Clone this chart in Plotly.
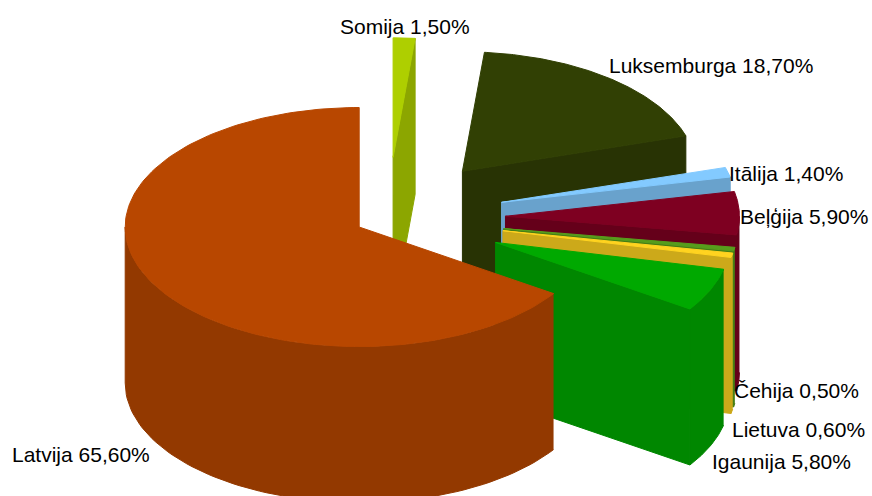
import numpy as np
import plotly.graph_objects as go

# Data, clockwise from 12 o'clock
names = ["Somija", "Luksemburga", "Itālija", "Beļģija", "Čehija", "Lietuva", "Igaunija", "Latvija"]
values = [1.5, 18.7, 1.4, 5.9, 0.5, 0.6, 5.8, 65.6]
explode = [0.525, 0.525, 0.515, 0.515, 0.515, 0.515, 0.515, 0.125]

# Styles
top_colors = ["#aecf00", "#314004", "#83caff", "#7e0021", "#579d1c", "#ffd320", "#00a900", "#b84700"]
side_colors = ["#8ca600", "#283304", "#69a2cc", "#65001a", "#467e16", "#cca91a", "#008700", "#933900"]

# Pie geometry on a 872x496 canvas
CX, CY, RX, RY, DEPTH = 385, 218, 234, 119.5, 156
nudge_x = [2.3, 0, 0, 0, 0, 0, 0, 0]
nudge_y = [2, 2, 0, 0, 0, 0, 0, 2]
label_pos = {
    "Somija": (340, 26), "Luksemburga": (609, 65), "Itālija": (729, 173), "Beļģija": (740, 216),
    "Čehija": (734, 390), "Lietuva": (732, 429), "Igaunija": (712, 461), "Latvija": (12, 454),
}


def pt(ax, ay, deg, r=1.0):
    t = np.radians(deg)
    return ax + r * RX * np.sin(t), ay - r * RY * np.cos(t)


def poly(xs, ys, color, name):
    return go.Scatter(
        x=list(xs), y=list(ys), mode="lines", fill="toself", fillcolor=color,
        line=dict(color=color, width=1), hoverinfo="text", text=name, showlegend=False,
    )


fig = go.Figure()
start = 0.0
for name, val, ex, nx, ny, ctop, cside in zip(names, values, explode, nudge_x, nudge_y, top_colors, side_colors):
    a1 = start
    a2 = start + val * 3.6
    start = a2
    ax, ay = pt(CX + nx, CY + ny, (a1 + a2) / 2, ex)

    # cut face at the clockwise end of the slice
    if a2 <= 180:
        ox, oy = pt(ax, ay, a2)
        fig.add_trace(poly([ax, ox, ox, ax, ax], [ay, oy, oy + DEPTH, ay + DEPTH, ay], cside, name))

    # outer rim, the part facing the viewer
    lo, hi = max(a1, 90.0), min(a2, 270.0)
    if hi > lo:
        th = np.linspace(lo, hi, 80)
        rx, ry = pt(ax, ay, th)
        fig.add_trace(poly(np.r_[rx, rx[::-1]], np.r_[ry, ry[::-1] + DEPTH], cside, name))

    # top face
    th = np.linspace(a1, a2, 160)
    tx, ty = pt(ax, ay, th)
    fig.add_trace(poly(np.r_[ax, tx, ax], np.r_[ay, ty, ay], ctop, name))

for name, val in zip(names, values):
    x, y = label_pos[name]
    fig.add_annotation(
        x=x, y=y, text=f"{name} {val:.2f}%".replace(".", ","), showarrow=False,
        xanchor="left", yanchor="middle", xshift=-1,
        font=dict(family="Liberation Sans, Arial, sans-serif", size=21, color="#000000"),
        borderpad=0,
    )

fig.update_xaxes(range=[0, 872], visible=False, fixedrange=True)
fig.update_yaxes(range=[496, 0], visible=False, fixedrange=True)
fig.update_layout(
    width=872, height=496, margin=dict(l=0, r=0, t=0, b=0),
    paper_bgcolor="white", plot_bgcolor="white", showlegend=False,
)
fig.write_html(
    "out.html",
    config={"displayModeBar": False},
    post_script="document.body.style.margin='0';document.documentElement.style.overflow='hidden';",
)
